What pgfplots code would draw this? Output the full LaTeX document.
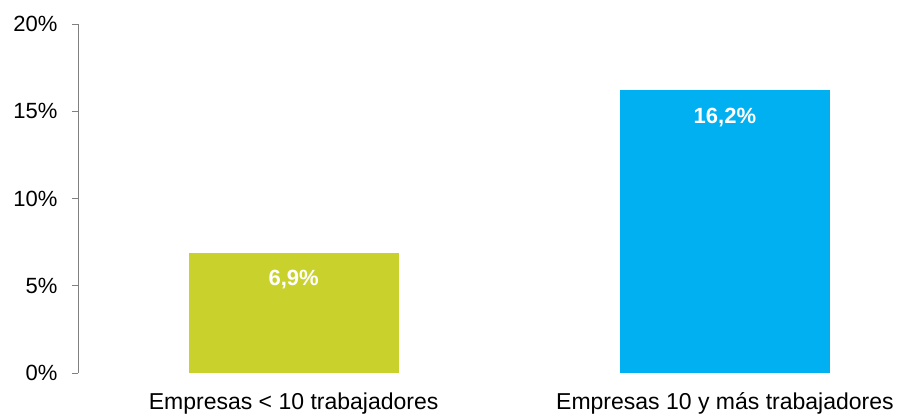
\documentclass[border=0pt]{standalone}
\usepackage{fontspec}
\setmainfont{Liberation Sans}
\usepackage{pgfplots}
\pgfplotsset{compat=1.18}
\definecolor{barGreen}{RGB}{201,210,45}
\definecolor{barBlue}{RGB}{0,176,240}
\definecolor{axGray}{RGB}{128,128,128}
\begin{document}
\begin{tikzpicture}
\begin{axis}[
  name=ax,
  scale only axis,
  width=822pt, height=349pt,
  xmin=-0.5, xmax=1.406,
  ymin=0, ymax=20,
  axis y line*=left,
  axis x line*=bottom,
  x axis line style={draw=none},
  y axis line style={draw=axGray, line width=0.8pt},
  ytick={0,5,10,15,20},
  yticklabel={\pgfmathprintnumber{\tick}\%},
  /pgf/number format/assume math mode=true,
  tick align=outside,
  major tick length=6pt,
  ytick style={draw=axGray, line width=0.8pt},
  xtick={0,1},
  xticklabels={Empresas < 10 trabajadores, Empresas 10 y más trabajadores},
  xtick style={draw=none},
  yticklabel style={font=\fontsize{22}{26}\selectfont, text=black, xshift=-11pt},
  xticklabel style={font=\fontsize{23}{27}\selectfont, text=black, yshift=-10pt},
  ybar, bar width=210pt, bar shift=0pt,
  nodes near coords,
  point meta=explicit symbolic,
  every node near coord/.append style={font=\bfseries\fontsize{22}{26}\selectfont, text=white, anchor=center, yshift=-27pt},
  clip=false,
]
\addplot[draw=none, fill=barGreen] coordinates {(0,6.9) [6,9\%]};
\addplot[draw=none, fill=barBlue] coordinates {(1,16.2) [16,2\%]};
\end{axis}
\pgfresetboundingbox
\path ([xshift=-78pt,yshift=-43pt]ax.south west) rectangle ([xshift=2pt,yshift=24pt]ax.north east);
\end{tikzpicture}
\end{document}
